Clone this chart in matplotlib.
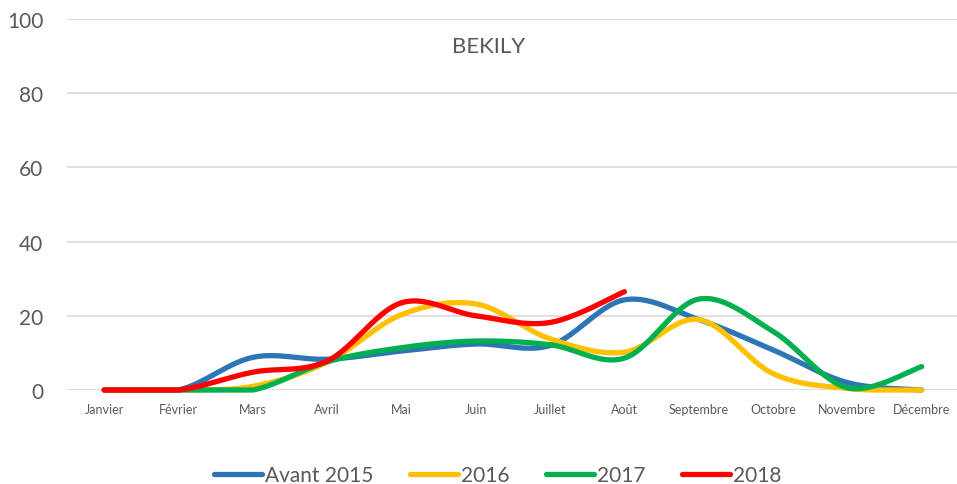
import numpy as np
import matplotlib
matplotlib.use("Agg")
import matplotlib.pyplot as plt
from matplotlib.lines import Line2D

months = ["Janvier", "Février", "Mars", "Avril", "Mai", "Juin", "Juillet",
          "Août", "Septembre", "Octobre", "Novembre", "Décembre"]
avant_2015 = [0, 0, 8.8, 8.3, 10.5, 12.4, 12.0, 24.3, 19.0, 10.8, 2.0, 0]
y2016 = [0, 0, 1.0, 7.5, 20.3, 23.2, 13.8, 10.2, 19.0, 4.4, 0.4, 0]
y2017 = [0, 0, 0, 7.6, 11.4, 13.2, 12.2, 8.6, 24.5, 15.8, 0.6, 6.3]
y2018 = [0, 0, 4.8, 7.8, 23.5, 20.0, 18.2, 26.5]
series_names = ["Avant 2015", "2016", "2017", "2018"]
colors = ["#2E75B6", "#FFC000", "#00B050", "#FF0000"]

plt.rcParams['font.family'] = ['Lato', 'DejaVu Sans']


def smooth(vals, n=30):
    """Excel-like smoothed line (Catmull-Rom bezier)."""
    p = np.array([[i, v] for i, v in enumerate(vals)], dtype=float)
    out = [p[0]]
    t = np.linspace(0, 1, n)[1:]
    for i in range(len(p) - 1):
        p0 = p[i - 1] if i > 0 else p[i]
        p1 = p[i]
        p2 = p[i + 1]
        p3 = p[i + 2] if i + 2 < len(p) else p[i + 1]
        c1 = p1 + (p2 - p0) / 6.0
        c2 = p2 - (p3 - p1) / 6.0
        for tt in t:
            b = ((1 - tt) ** 3) * p1 + 3 * ((1 - tt) ** 2) * tt * c1 + 3 * (1 - tt) * tt ** 2 * c2 + tt ** 3 * p2
            out.append(b)
    out = np.array(out)
    return out[:, 0], np.maximum(out[:, 1], 0)


fig = plt.figure(figsize=(9.57, 4.85), dpi=100)
ax = fig.add_axes([0.070, 0.1938, 0.932, 0.765])

for vals, col in zip([avant_2015, y2016, y2017, y2018], colors):
    xs, ys = smooth(vals)
    ln, = ax.plot(xs, ys, color=col, lw=3.8, solid_capstyle='round', solid_joinstyle='round', zorder=3)
    ln.set_clip_on(False)

ax.set_xlim(-0.5, len(months) - 0.5)
ax.set_ylim(0, 100)
ax.set_yticks([0, 20, 40, 60, 80, 100])
ax.set_xticks(range(len(months)))
ax.set_xticklabels(months, fontsize=9, color="#595959")
ax.tick_params(axis='y', labelsize=15, colors="#595959", length=0, pad=17)
ax.tick_params(axis='x', length=0, pad=9)
ax.grid(axis='y', color="#D9D9D9", lw=1.2)
ax.set_axisbelow(True)
for s in ax.spines.values():
    s.set_visible(False)

fig.text(0.510, 0.903, "BEKILY", ha='center', va='center',
         fontsize=16, color="#595959")

handles = [Line2D([0], [0], color=c, lw=3.8, solid_capstyle='round') for c in colors]
fig.legend(handles, series_names, loc='center', bbox_to_anchor=(0.520, 0.018),
           ncol=4, frameon=False, fontsize=15, handlelength=2.3, handletextpad=0.15,
           columnspacing=1.75, labelcolor="#595959")

fig.savefig("out.png", dpi=100)
